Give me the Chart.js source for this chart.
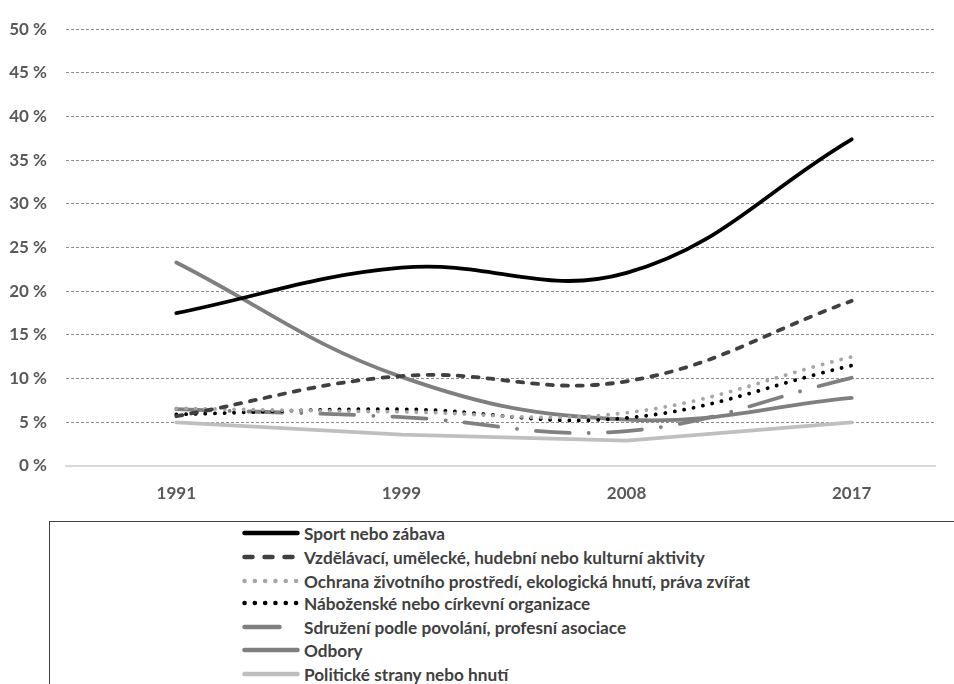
<!DOCTYPE html>
<html>
<head>
<meta charset="utf-8">
<script src="https://cdn.jsdelivr.net/npm/chart.js@4"></script>
<style>
  html, body { margin: 0; padding: 0; background: #fff; width: 954px; height: 684px; overflow: hidden; }
  #wrap { position: absolute; left: 0; top: 0; width: 954px; height: 510px; }
  #legend { position: absolute; left: 49px; top: 521px; width: 1000px; height: 200px;
    border: 1.5px solid #404040; box-sizing: border-box; }
  .row { position: absolute; left: 190px; height: 20px; display: flex; align-items: center; white-space: nowrap; }
  .row svg { width: 64px; height: 10px; flex: none; }
  .row span { font-family: Lato, "Liberation Sans", sans-serif; font-weight: bold;
    font-size: 17.2px; color: #404040; }
</style>
</head>
<body>
<div id="wrap"><canvas id="c" width="954" height="510"></canvas></div>
<div id="legend"></div>
<script>
const years = ["1991", "1999", "2008", "2017"];
const yTicks = [0, 5, 10, 15, 20, 25, 30, 35, 40, 45, 50];
const seriesNames = [
  "Sport nebo zábava",
  "Vzdělávací, umělecké, hudební nebo kulturní aktivity",
  "Ochrana životního prostředí, ekologická hnutí, práva zvířat",
  "Náboženské nebo církevní organizace",
  "Sdružení podle povolání, profesní asociace",
  "Odbory",
  "Politické strany nebo hnutí"
];
const sport      = [17.5, 22.7, 22.1, 37.4];
const vzdelavaci = [5.7, 10.3, 9.7, 18.9];
const ochrana    = [6.6, 6.2, 6.1, 12.5];
const nabozenske = [5.9, 6.5, 5.5, 11.5];
const sdruzeni   = [6.5, 5.6, 4.0, 10.1];
const odbory     = [23.3, 10.2, 5.3, 7.8];
const politicke  = [5.0, 3.6, 2.9, 5.0];

const seriesValues = [sport, vzdelavaci, ochrana, nabozenske, sdruzeni, odbory, politicke];
const styles = [
  { color: "#000000", dash: [], legendDash: "", tension: 0.4 },
  { color: "#404040", dash: [6, 9], legendDash: "8 12", tension: 0.4 },
  { color: "#a6a6a6", dash: [0.1, 9.5], legendDash: "0.1 10.2", tension: 0.4 },
  { color: "#000000", dash: [0.1, 9.5], legendDash: "0.1 10.2", tension: 0.4 },
  { color: "#808080", dash: [34, 19, 0.1, 19], legendDash: "35 100", tension: 0.4 },
  { color: "#7f7f7f", dash: [], legendDash: "", tension: 0.4 },
  { color: "#bfbfbf", dash: [], legendDash: "", tension: 0 }
];

const datasets = seriesValues.map((vals, si) => ({
  label: seriesNames[si],
  data: vals.map((v, i) => ({ x: i, y: v })),
  borderColor: styles[si].color,
  backgroundColor: styles[si].color,
  borderWidth: 3.8,
  borderDash: styles[si].dash,
  borderCapStyle: "round",
  borderJoinStyle: "round",
  tension: styles[si].tension,
  pointRadius: 0,
  fill: false,
  order: si
}));

const tickFont = { family: "Lato, 'Liberation Sans', sans-serif", size: 17, weight: "bold" };

new Chart(document.getElementById("c"), {
  type: "line",
  data: { datasets },
  options: {
    responsive: false,
    animation: false,
    events: [],
    layout: { padding: { top: 22, right: 19, bottom: 0, left: 0 } },
    plugins: { legend: { display: false }, tooltip: { enabled: false } },
    scales: {
      x: {
        type: "linear",
        min: -0.49,
        max: 3.37,
        afterFit: s => { s.height = 44; },
        afterBuildTicks: s => { s.ticks = years.map((_, i) => ({ value: i })); },
        grid: { display: false, drawTicks: false },
        border: { display: true, color: "#d9d9d9", width: 2 },
        ticks: {
          autoSkip: false,
          maxRotation: 0,
          padding: 17,
          color: "#595959",
          font: tickFont,
          callback: (v) => years[v]
        }
      },
      y: {
        min: 0,
        max: 50,
        afterFit: s => { s.width = 66; },
        afterBuildTicks: s => { s.ticks = yTicks.map(v => ({ value: v })); },
        grid: {
          drawTicks: false,
          lineWidth: 1,
          color: ctx => ctx.tick && ctx.tick.value === 0 ? "rgba(0,0,0,0)" : "#8c8c8c"
        },
        border: { display: false, dash: [3, 2] },
        ticks: {
          padding: 19,
          color: "#595959",
          font: tickFont,
          callback: v => v + " %"
        }
      }
    }
  }
});

// HTML legend
const legend = document.getElementById("legend");
const rowTops = [1, 25, 49, 71, 95, 118, 142];
seriesNames.forEach((name, i) => {
  const row = document.createElement("div");
  row.className = "row";
  row.style.top = rowTops[i] + "px";
  const st = styles[i];
  const dashAttr = st.legendDash ? ` stroke-dasharray="${st.legendDash}"` : "";
  row.innerHTML = `<svg viewBox="0 0 64 10"><line x1="4.5" y1="5" x2="57.5" y2="5" stroke="${st.color}" stroke-width="4.5" stroke-linecap="round"${dashAttr}/></svg><span>${name}</span>`;
  legend.appendChild(row);
});
</script>
</body>
</html>
